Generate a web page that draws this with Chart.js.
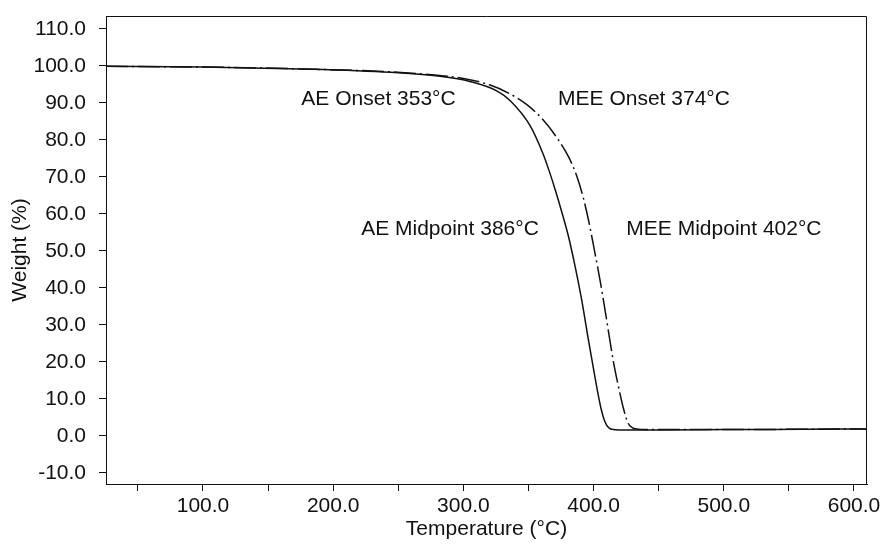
<!DOCTYPE html>
<html>
<head>
<meta charset="utf-8">
<script src="https://cdn.jsdelivr.net/npm/chart.js@4/dist/chart.umd.min.js"></script>
<style>
html,body{margin:0;padding:0;background:#fff;}
#c{display:block;}
</style>
</head>
<body>
<canvas id="c" width="887" height="546"></canvas>
<script>
// ---- data ----
const aeTemps   = [25.5, 100, 175, 244, 282, 305, 326, 336, 351, 361, 366, 371, 376, 381, 386, 391, 396, 401, 404, 406, 408, 410, 412, 414, 420, 450, 500, 560, 610];
const aeWeights = [99.9, 99.7, 99.2, 98.3, 97.2, 95.8, 93.2, 90.6, 84.0, 76.4, 71.5, 66.0, 60.0, 53.5, 45.5, 36.5, 26.0, 16.0, 10.3, 7.0, 4.5, 2.9, 2.1, 1.8, 1.6, 1.6, 1.7, 1.8, 1.9];

const meeTemps   = [25.5, 100, 175, 244, 282, 300, 320, 335, 349, 361, 372, 381, 387, 392, 396, 401, 405, 409.5, 415, 419, 422.6, 426.4, 430, 433, 440, 500, 560, 610];
const meeWeights = [99.9, 99.7, 99.2, 98.4, 97.4, 96.6, 94.9, 92.6, 89.5, 85.5, 80.5, 75.3, 70.3, 64.5, 58.5, 49.5, 42.0, 32.5, 20.5, 13.5, 7.9, 3.5, 2.2, 1.9, 1.7, 1.7, 1.8, 1.9];

const yTickValues = [-10, 0, 10, 20, 30, 40, 50, 60, 70, 80, 90, 100, 110];
const xTickValues = [50, 100, 150, 200, 250, 300, 350, 400, 450, 500, 550, 600];
const xLabelledTicks = [100, 200, 300, 400, 500, 600];

const annotLabels = ["AE Onset 353°C", "MEE Onset 374°C", "AE Midpoint 386°C", "MEE Midpoint 402°C"];
const annotTemps  = [234.8, 438.7, 289.7, 500.1];
const annotWeights = [91.1, 91.1, 56.0, 56.0];

// ---- chart ----
const FONT = "'Liberation Sans', Arial, Helvetica, sans-serif";
const toPts = (xs, ys) => xs.map((x, i) => ({x: x, y: ys[i]}));

const frame = {
  id: 'frame',
  afterDraw(chart) {
    const a = chart.chartArea, ctx = chart.ctx;
    ctx.save();
    ctx.strokeStyle = '#111';
    ctx.lineWidth = 1;
    ctx.beginPath();
    ctx.moveTo(a.left, a.top + 0.5);
    ctx.lineTo(a.right - 0.5, a.top + 0.5);
    ctx.lineTo(a.right - 0.5, a.bottom);
    ctx.stroke();
    ctx.restore();
  }
};

const annotations = {
  id: 'annotations',
  afterDatasetsDraw(chart) {
    const ctx = chart.ctx, xs = chart.scales.x, ys = chart.scales.y;
    ctx.save();
    ctx.fillStyle = '#111';
    ctx.font = '21px ' + FONT;
    ctx.textAlign = 'center';
    ctx.textBaseline = 'middle';
    annotLabels.forEach((t, i) => {
      ctx.fillText(t, xs.getPixelForValue(annotTemps[i]), ys.getPixelForValue(annotWeights[i]));
    });
    ctx.restore();
  }
};

new Chart(document.getElementById('c'), {
  type: 'line',
  data: {
    datasets: [
      {
        label: 'AE',
        data: toPts(aeTemps, aeWeights),
        borderColor: '#111',
        borderWidth: 1.5,
        pointRadius: 0,
        fill: false,
        cubicInterpolationMode: 'monotone'
      },
      {
        label: 'MEE',
        data: toPts(meeTemps, meeWeights),
        borderColor: '#111',
        borderWidth: 1.5,
        borderDash: [22, 4, 2, 4],
        pointRadius: 0,
        fill: false,
        cubicInterpolationMode: 'monotone'
      }
    ]
  },
  options: {
    responsive: false,
    animation: false,
    layout: { padding: { left: 0, right: 20, top: 16, bottom: 0 } },
    plugins: { legend: { display: false }, tooltip: { enabled: false } },
    scales: {
      x: {
        type: 'linear',
        min: 25.5,
        max: 610,
        afterBuildTicks: s => { s.ticks = xTickValues.map(v => ({value: v})); },
        afterFit: s => { s.height = 62; s.paddingLeft = 0; s.paddingRight = 0; },
        grid: { drawOnChartArea: false, tickLength: 7, tickColor: '#111' },
        border: { display: true, color: '#111', width: 1 },
        ticks: {
          color: '#111',
          font: { family: FONT, size: 21 },
          padding: 3,
          maxRotation: 0,
          autoSkip: false,
          callback: v => xLabelledTicks.includes(v) ? v.toFixed(1) : ''
        },
        title: { display: true, text: 'Temperature (°C)', color: '#111', font: { family: FONT, size: 21 }, padding: { top: 0, bottom: 4 } }
      },
      y: {
        type: 'linear',
        min: -13,
        max: 113.5,
        afterBuildTicks: s => { s.ticks = yTickValues.map(v => ({value: v})); },
        afterFit: s => { s.width = 106; s.paddingTop = 0; s.paddingBottom = 0; },
        grid: { drawOnChartArea: false, tickLength: 7, tickColor: '#111' },
        border: { display: true, color: '#111', width: 1 },
        ticks: {
          color: '#111',
          font: { family: FONT, size: 21 },
          padding: 13,
          autoSkip: false,
          callback: v => Number(v).toFixed(1)
        },
        title: { display: true, text: 'Weight (%)', color: '#111', font: { family: FONT, size: 21 }, padding: { top: 8, bottom: 4 } }
      }
    }
  },
  plugins: [frame, annotations]
});
</script>
</body>
</html>
